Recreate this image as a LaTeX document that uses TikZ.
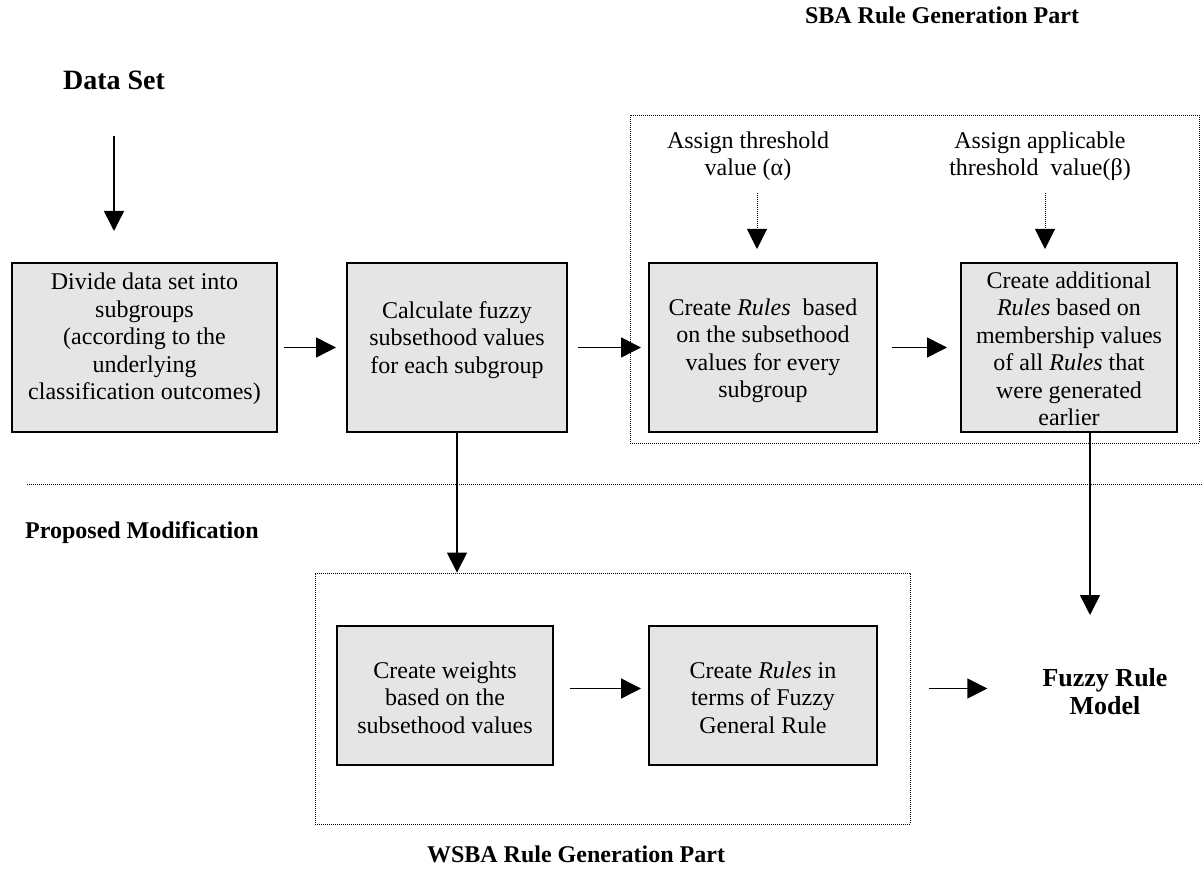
\documentclass[tikz,border=0pt]{standalone}
\usepackage{fontspec}
\setmainfont{Liberation Serif}
\usetikzlibrary{arrows.meta}
\definecolor{boxgray}{RGB}{229,229,229}
\begin{document}
\begin{tikzpicture}[x=1pt,y=-1pt,
  box/.style={draw=black, line width=2pt, fill=boxgray, inner sep=0pt, minimum height=169pt},
  boxtext/.style={align=center, font=\fontsize{24}{27.5}\selectfont, inner sep=0pt},
  note/.style={align=center, font=\fontsize{24}{27.5}\selectfont, inner sep=0pt},
  heading/.style={font=\fontsize{24}{27.5}\selectfont\bfseries, inner sep=0pt},
  bigheading/.style={align=center, font=\fontsize{26}{28}\selectfont\bfseries, inner sep=0pt},
  dotframe/.style={draw=black, line width=0.9pt, dash pattern=on 0.9pt off 1.1pt, inner sep=0pt},
  flow/.style={line width=1.5pt, -{Triangle[length=20pt,width=20pt]}},
  hint/.style={line width=0.9pt, dash pattern=on 0.9pt off 1.1pt, -{Triangle[length=20pt,width=20pt]}},
]
\useasboundingbox (0,0) rectangle (1203,877);

% dotted frames around the two rule generation parts
\node[dotframe, minimum width=569pt, minimum height=328pt] (sba) at (914.5,279) {};
\node[dotframe, minimum width=595pt, minimum height=251pt] (wsba) at (612.5,698.5) {};
\draw[line width=0.9pt, dash pattern=on 0.9pt off 1.1pt] (27,484) -- (1203,484);

% headings
\node[heading, anchor=base] (sbat) at (942,24) {SBA Rule Generation Part};
\node[heading, anchor=base] (wsbat) at (576,862) {WSBA Rule Generation Part};
\node[heading, anchor=base west] (prop) at (25,538) {Proposed Modification};
\node[font=\fontsize{28}{30}\selectfont\bfseries, inner sep=0pt, anchor=base] (ds) at (114,90) {Data Set};
\node[bigheading] (frm) at (1105,692) {Fuzzy Rule\\Model};

% process boxes
\node[box, minimum width=265pt] (b1) at (144.5,347.5) {};
\node[box, minimum width=220pt] (b2) at (457,347.5) {};
\node[box, minimum width=228pt] (b3) at (763,347.5) {};
\node[box, minimum width=216pt] (b4) at (1069,347.5) {};
\node[box, minimum width=216pt, minimum height=139pt] (b5) at (445,695.5) {};
\node[box, minimum width=228pt, minimum height=139pt] (b6) at (763,695.5) {};

\node[boxtext] at ([yshift=8.5pt]b1.center) {Divide data set into\\subgroups\\(according to the\\underlying\\classification outcomes)};
\node[boxtext] at ([yshift=7.5pt]b2.center) {Calculate fuzzy\\subsethood values\\for each subgroup};
\node[boxtext] at ([yshift=-3.5pt]b3.center) {Create \textit{Rules}~ based\\on the subsethood\\values for every\\subgroup};
\node[boxtext] at ([yshift=-1.5pt]b4.center) {Create additional\\\textit{Rules} based on\\membership values\\of all \textit{Rules} that\\were generated\\earlier};
\node[boxtext] at ([yshift=-2pt]b5.center) {Create weights\\based on the\\subsethood values};
\node[boxtext] at ([yshift=-2pt]b6.center) {Create \textit{Rules} in\\terms of Fuzzy\\General Rule};

% threshold inputs
\node[note] (ta) at (748,156) {Assign threshold\\value (α)};
\node[note] (tb) at (1040,156) {Assign applicable\\threshold~ value(β)};

% connectors
\draw[flow, shorten <=46pt, shorten >=31pt] (ds.south) -- (ds.south |- b1.north);
\draw[flow, shorten <=6pt, shorten >=10pt] (b1) -- (b2);
\draw[flow, shorten <=10pt, shorten >=7pt] (b2) -- (b3);
\draw[flow, shorten <=14pt, shorten >=13pt] (b3) -- (b4);
\draw[hint, shorten <=12pt, shorten >=13pt] ([xshift=9pt]ta.south) -- ([xshift=9pt]ta.south |- b3.north);
\draw[hint, shorten <=12pt, shorten >=13pt] ([xshift=5pt]tb.south) -- ([xshift=5pt]tb.south |- b4.north);
\draw[flow] (b2.south) -- (b2.south |- wsba.north);
\coordinate (fin) at (1090,615);
\draw[flow] (b4.south -| fin) -- (fin);
\draw[flow, shorten <=16pt, shorten >=7pt] ([yshift=7pt]b5.east) -- ([yshift=7pt]b6.west);
\draw[flow, shorten <=51pt, shorten >=55pt] ([yshift=7pt]b6.east) -- ([yshift=7pt]b6.east -| frm.west);
\end{tikzpicture}
\end{document}
